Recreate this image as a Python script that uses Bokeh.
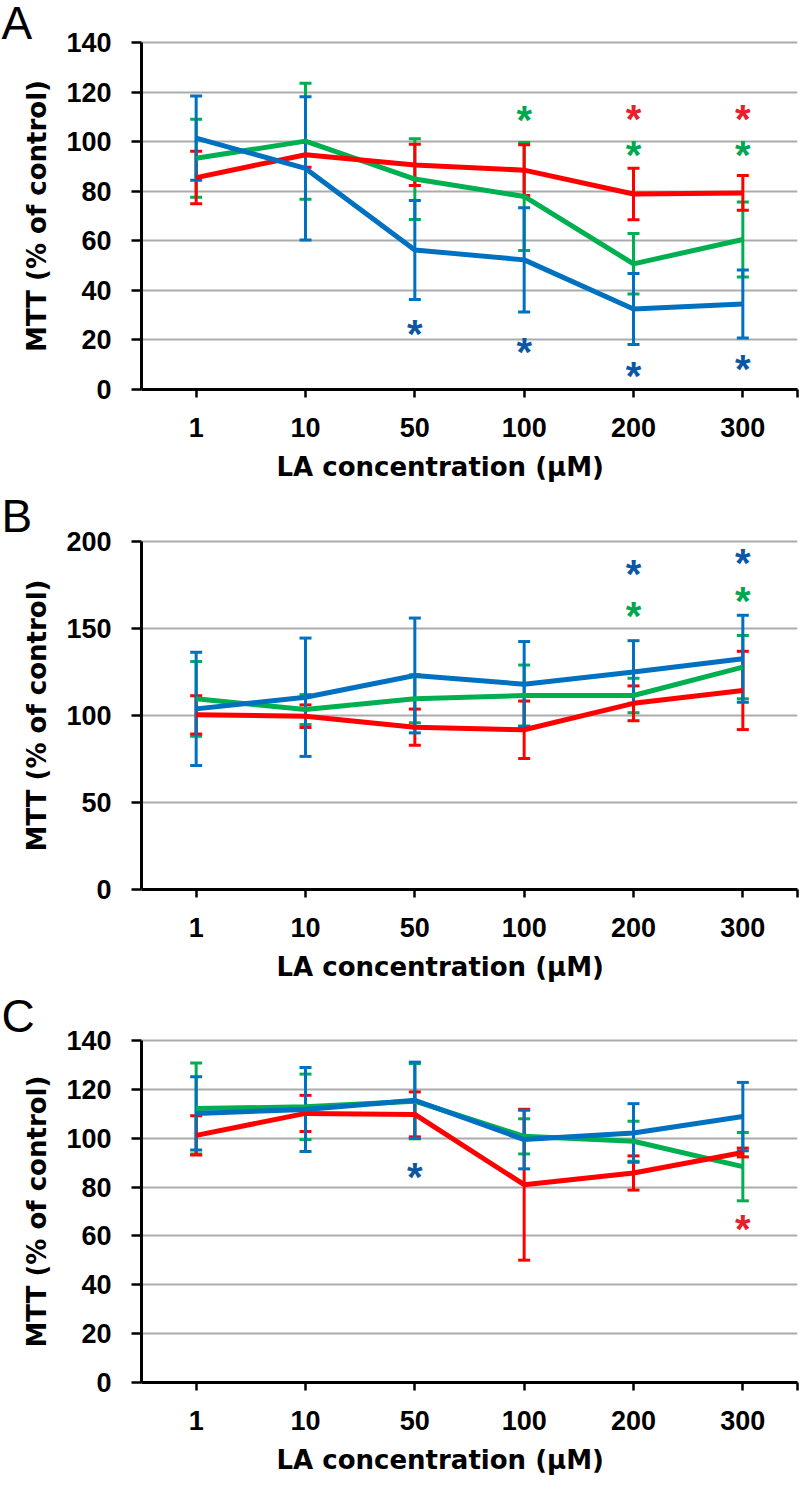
import math
from bokeh.plotting import figure
from bokeh.models import Range1d, FixedTicker, Whisker, TeeHead, ColumnDataSource, Title
from bokeh.layouts import column, row
from bokeh.embed import file_html
from bokeh.resources import INLINE
from bokeh.core.properties import value

# ---------------- data ----------------
categories = ["1", "10", "50", "100", "200", "300"]

# Panel A
a_red = [85.5, 94.7, 90.6, 88.5, 78.9, 79.3]
a_red_err = [10.6, 5.0, 8.3, 10.2, 10.4, 7.0]
a_green = [93.3, 100.2, 84.9, 77.9, 50.7, 60.5]
a_green_err = [15.7, 23.4, 16.3, 21.8, 12.2, 15.1]
a_blue = [101.4, 89.2, 56.3, 52.3, 32.5, 34.5]
a_blue_err = [17.0, 28.9, 20.0, 21.0, 14.3, 13.7]
a_star_idx = [2, 3, 4, 5, 3, 4, 5, 4, 5]
a_star_y = [25, 17.7, 7.7, 10.6, 111, 97, 97, 111.4, 111.4]
a_star_series = ["blue", "blue", "blue", "blue", "green", "green", "green", "red", "red"]

# Panel B
b_red = [100.4, 99.6, 93.3, 91.8, 107.0, 114.4]
b_red_err = [11.0, 6.5, 10.4, 16.5, 10.0, 22.5]
b_green = [109.6, 103.4, 109.6, 111.5, 111.5, 127.8]
b_green_err = [21.5, 8.6, 13.8, 17.5, 9.9, 18.2]
b_blue = [103.8, 110.5, 123.0, 118.0, 125.0, 132.6]
b_blue_err = [32.6, 34.0, 33.0, 24.5, 18.0, 25.0]
b_star_idx = [4, 5, 4, 5]
b_star_y = [185, 191, 160.7, 169]
b_star_series = ["blue", "blue", "green", "green"]

# Panel C
c_red = [101.2, 110.2, 109.8, 81.0, 85.8, 94.2]
c_red_err = [8.0, 7.4, 9.2, 30.9, 7.0, 1.8]
c_green = [112.2, 112.9, 115.2, 100.8, 98.8, 88.4]
c_green_err = [18.6, 13.4, 15.4, 7.2, 8.2, 14.0]
c_blue = [110.2, 111.8, 115.6, 99.5, 102.2, 108.9]
c_blue_err = [15.0, 17.2, 15.6, 12.0, 12.0, 14.0]
c_star_idx = [2, 5]
c_star_y = [86.8, 65.3]
c_star_series = ["blue", "red"]

X_TITLE = "LA concentration (μM)"
Y_TITLE = "MTT (% of control)"

# ---------------- styles ----------------
LINE_COLORS = {"red": "#FF0000", "green": "#00B050", "blue": "#0070C0"}
STAR_COLORS = {"red": "#E8202A", "green": "#00A651", "blue": "#0B57A4"}
TICK_FONT = "Liberation Sans"
LABEL_FONT = "DejaVu Sans"
LETTER_SIZE = 46
SIDE_W = 58          # width of the side strip holding panel letter + y title
LEFT = 141           # page x of the plot frame's left edge
MAIN_W = 800 - SIDE_W

xs = list(range(1, len(categories) + 1))


def side_strip(letter, height, frame_bottom, ytop_ext, axis_top, axis_len, letter_base):
    # same vertical frame as the main plot; positions converted from pixels
    per_px = ytop_ext / frame_bottom
    s = figure(width=SIDE_W, height=height,
               x_range=Range1d(0, SIDE_W), y_range=Range1d(0, ytop_ext),
               x_axis_type=None, y_axis_type=None,
               output_backend="svg", toolbar_location=None,
               min_border_left=0, min_border_right=0,
               min_border_top=0, min_border_bottom=height - frame_bottom)
    s.outline_line_color = None
    s.background_fill_color = "white"
    s.border_fill_color = "white"
    s.text(x=[1], y=[(frame_bottom - letter_base) * per_px], text=[letter],
           text_font=value("Liberation Sans"),
           text_font_size=f"{LETTER_SIZE}px", text_color="black",
           y_offset=-round(0.425 * LETTER_SIZE),
           text_align="left", text_baseline="alphabetic")
    mid = axis_top + axis_len / 2
    s.text(x=[36], y=[(frame_bottom - mid) * per_px], text=[Y_TITLE], angle=math.pi / 2,
           text_font=value(LABEL_FONT), text_font_style="bold",
           text_font_size="26px", text_color="black",
           text_align="center", text_baseline="middle")
    return s


def make_panel(ymax, ystep, ytop_ext, series, star_idx, star_y, star_series,
               height, frame_bottom, s1, s2):
    p = figure(width=MAIN_W, height=height,
               x_range=Range1d(0.5, len(categories) + 0.5),
               y_range=Range1d(0, ytop_ext),
               output_backend="svg", toolbar_location=None,
               min_border_left=LEFT - SIDE_W, min_border_right=3,
               min_border_top=0, min_border_bottom=height - frame_bottom)
    p.outline_line_color = None
    p.background_fill_color = "white"
    p.border_fill_color = "white"

    # x axis
    overrides = {x: c for x, c in zip(xs, categories)}
    overrides[len(categories) + 0.5] = ""
    p.xaxis.ticker = FixedTicker(ticks=xs + [len(categories) + 0.5])
    p.xaxis.major_label_overrides = overrides
    p.xaxis.major_tick_out = 8
    p.xaxis.major_tick_in = 0
    p.xaxis.minor_tick_line_color = None
    p.xaxis.axis_line_width = 3
    p.xaxis.major_tick_line_width = 2.5
    p.xaxis.axis_line_color = "black"
    p.xaxis.major_label_text_font = TICK_FONT
    p.xaxis.major_label_text_font_style = "bold"
    p.xaxis.major_label_text_font_size = "27px"
    p.xaxis.major_label_text_color = "black"
    p.xaxis.major_label_standoff = s1

    xt = Title(text=X_TITLE, align="left", offset=135, standoff=s2,
               text_font=LABEL_FONT, text_font_style="bold",
               text_font_size="26px", text_color="black")
    p.add_layout(xt, "below")

    # y axis (line only up to the top tick)
    p.yaxis.ticker = FixedTicker(ticks=list(range(0, ymax + 1, ystep)))
    p.yaxis.bounds = (0, ymax)
    p.yaxis.major_tick_out = 10
    p.yaxis.major_tick_in = 0
    p.yaxis.minor_tick_line_color = None
    p.yaxis.axis_line_width = 3
    p.yaxis.major_tick_line_width = 2.5
    p.yaxis.major_label_text_font = TICK_FONT
    p.yaxis.major_label_text_font_style = "bold"
    p.yaxis.major_label_text_font_size = "27px"
    p.yaxis.major_label_text_color = "black"
    p.yaxis.major_label_standoff = 20

    p.xgrid.visible = False
    p.ygrid.grid_line_color = "#ABABAB"
    p.ygrid.grid_line_width = 2

    # series lines (green, red, blue order)
    for name, vals, errs in series:
        p.line(xs, vals, line_color=LINE_COLORS[name], line_width=5)

    # significance asterisks
    star_src = ColumnDataSource(dict(
        x=[xs[i] for i in star_idx], y=star_y,
        t=["*"] * len(star_y),
        c=[STAR_COLORS[s] for s in star_series]))
    p.text("x", "y", text="t", source=star_src, text_color="c",
           text_font=value(TICK_FONT), text_font_style="bold",
           text_font_size="40px", text_align="center",
           text_baseline="alphabetic", y_offset=6)

    # error bars
    for name, vals, errs in series:
        col = LINE_COLORS[name]
        src = ColumnDataSource(dict(
            x=xs,
            lo=[v - e for v, e in zip(vals, errs)],
            hi=[v + e for v, e in zip(vals, errs)]))
        w = Whisker(source=src, base="x", upper="hi", lower="lo", dimension="height",
                    line_color=col, line_width=3,
                    upper_head=TeeHead(size=12, line_color=col, line_width=3),
                    lower_head=TeeHead(size=12, line_color=col, line_width=3))
        p.add_layout(w)
    return p


panels = []
# (letter, ymax, step, series, stars..., canvas height, axis top, axis bottom, letter baseline)
for letter, ymax, ystep, series, sidx, sy, sser, height, top, bottom, letter_base in [
    ("A", 140, 20,
     [("green", a_green, a_green_err), ("red", a_red, a_red_err), ("blue", a_blue, a_blue_err)],
     a_star_idx, a_star_y, a_star_series, 493, 42, 389, 42),
    ("B", 200, 50,
     [("green", b_green, b_green_err), ("red", b_red, b_red_err), ("blue", b_blue, b_blue_err)],
     b_star_idx, b_star_y, b_star_series, 500, 48, 396, 42),
    ("C", 140, 20,
     [("green", c_green, c_green_err), ("red", c_red, c_red_err), ("blue", c_blue, c_blue_err)],
     c_star_idx, c_star_y, c_star_series, 492, 48, 396, 43),
]:
    axis_len = bottom - top
    ytop_ext = ymax * bottom / axis_len
    main = make_panel(ymax, ystep, ytop_ext, series, sidx, sy, sser, height, bottom, s1=20, s2=21)
    side = side_strip(letter, height, bottom, ytop_ext, top, axis_len, letter_base)
    panels.append(row(side, main, spacing=0))

layout = column(*panels, spacing=0)
open("out.html", "w").write(file_html(layout, INLINE))
